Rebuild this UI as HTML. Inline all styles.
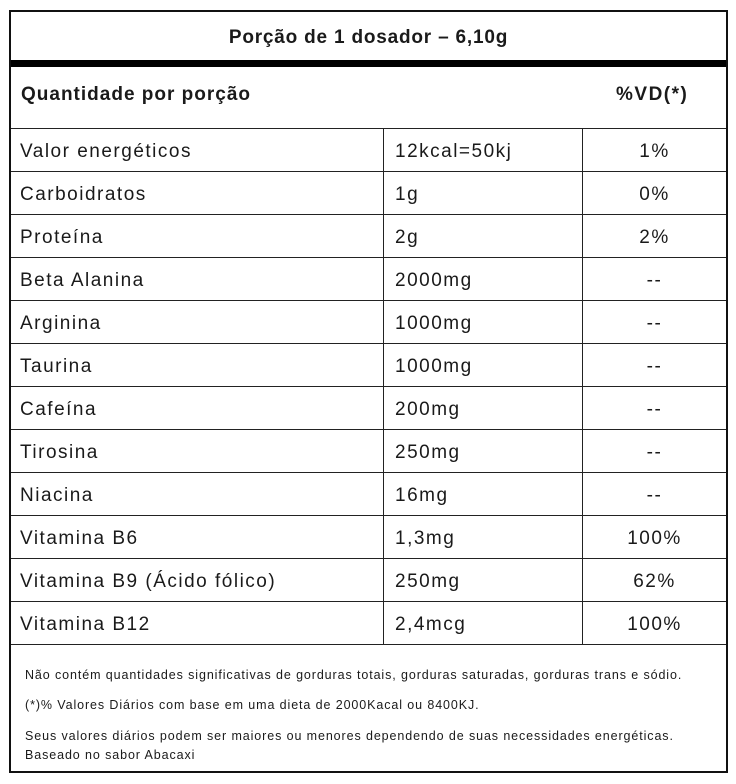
<!DOCTYPE html>
<html><head><meta charset="utf-8"><style>
body{margin:0;width:736px;height:784px;background:#fff;font-family:"Liberation Sans",sans-serif;color:#1a1a1a;position:relative;overflow:hidden}
.a{position:absolute}
.box{left:9px;top:10px;width:715px;height:759px;border:2px solid #111}
.h{left:0;top:0;width:715px;height:52px;display:flex;align-items:center;justify-content:center;font-weight:bold;font-size:19px;letter-spacing:0.8px}
.thick{left:0;top:48px;width:715px;height:7px;background:#000}
.hl{left:0;width:715px;height:1px;background:#222}
.vl{width:1px;background:#222;top:116px;height:516px}
.c{font-size:19px;line-height:43px;white-space:nowrap;letter-spacing:1.5px;margin-top:2px}
.f{font-size:12.5px;left:14px;white-space:nowrap;letter-spacing:0.9px}
</style></head><body>
<div class="a box">
<div class="a h">Porção de 1 dosador – 6,10g</div>
<div class="a thick"></div>
<div class="a" style="left:10px;top:72px;font-weight:bold;font-size:19px;letter-spacing:1px">Quantidade por porção</div>
<div class="a" style="left:605px;top:72px;font-weight:bold;font-size:19px;letter-spacing:1.5px">%VD(*)</div>
<div class="a vl" style="left:372px"></div>
<div class="a vl" style="left:571px"></div>
<div class="a f" style="top:656px">Não contém quantidades significativas de gorduras totais, gorduras saturadas, gorduras trans e sódio.</div>
<div class="a f" style="top:686px">(*)% Valores Diários com base em uma dieta de 2000Kacal ou 8400KJ.</div>
<div class="a f" style="top:717px">Seus valores diários podem ser maiores ou menores dependendo de suas necessidades energéticas.</div>
<div class="a f" style="top:736px">Baseado no sabor Abacaxi</div>
</div>
<script>
const names=["Valor energéticos","Carboidratos","Proteína","Beta Alanina","Arginina","Taurina","Cafeína","Tirosina","Niacina","Vitamina B6","Vitamina B9 (Ácido fólico)","Vitamina B12"];
const amounts=["12kcal=50kj","1g","2g","2000mg","1000mg","1000mg","200mg","250mg","16mg","1,3mg","250mg","2,4mcg"];
const vds=["1%","0%","2%","--","--","--","--","--","--","100%","62%","100%"];
const box=document.querySelector('.box');
const top0=116,rh=43;
for(let i=0;i<=names.length;i++){
 const l=document.createElement('div');l.className='a hl';l.style.top=(top0+i*rh)+'px';
 
 
 box.appendChild(l);
}
names.forEach((n,i)=>{
 const y=top0+i*rh;
 const a=document.createElement('div');a.className='a c';a.style.left='9px';a.style.top=y+'px';a.textContent=n;
 
 
 box.appendChild(a);
 const b=document.createElement('div');b.className='a c';b.style.left='384px';b.style.top=y+'px';b.textContent=amounts[i];
 
 
 box.appendChild(b);
 const c=document.createElement('div');c.className='a c';c.style.left='572px';c.style.width='143px';c.style.textAlign='center';c.style.top=y+'px';c.textContent=vds[i];
 
 
 box.appendChild(c);
});
</script>
</body></html>
